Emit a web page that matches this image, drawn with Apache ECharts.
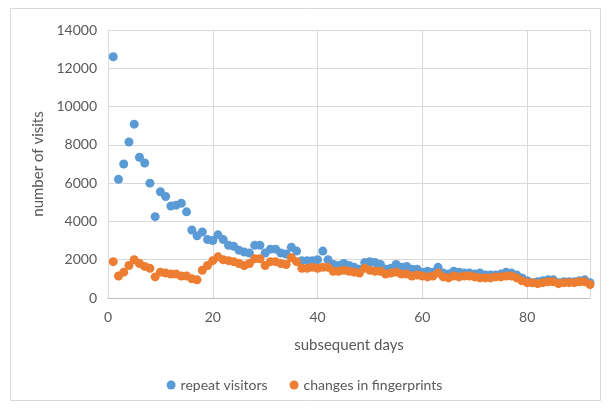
<!DOCTYPE html>
<html><head><meta charset="utf-8">
<script src="https://cdn.jsdelivr.net/npm/echarts@6/dist/echarts.min.js"></script>
<style>html,body{margin:0;padding:0;background:#fff}#c{width:609px;height:408px}</style>
</head><body><div id="c"></div>
<script>
const days = Array.from({length: 92}, (_, i) => i + 1);
const repeatVisitors = [12600,6200,7000,8150,9080,7350,7050,6000,4250,5550,5300,4800,4850,4950,4500,3550,3250,3450,3050,3000,
3300,3050,2750,2700,2500,2400,2350,2750,2750,2350,2550,2550,2350,2300,2650,2450,1950,1950,1950,2000,
2450,2000,1750,1700,1800,1700,1600,1500,1850,1900,1850,1750,1500,1550,1750,1600,1650,1500,1500,1350,
1400,1350,1600,1300,1250,1400,1350,1300,1300,1250,1300,1200,1200,1200,1250,1350,1300,1200,1050,900,
800,850,900,950,950,800,850,850,850,900,950,800];
const fingerprintChanges = [1900,1150,1350,1700,2000,1800,1650,1550,1100,1350,1300,1250,1250,1150,1150,1000,950,1450,1700,1950,
2150,2000,1950,1900,1800,1700,1800,2050,2050,1700,1900,1900,1800,1750,2100,1900,1550,1550,1600,1550,
1600,1600,1400,1400,1450,1400,1350,1300,1550,1450,1400,1400,1250,1300,1350,1250,1250,1150,1200,1150,
1100,1150,1300,1100,1050,1150,1100,1150,1150,1100,1050,1050,1050,1100,1100,1150,1150,1050,900,800,
800,750,800,850,850,750,800,800,800,850,850,700];
const seriesNames = ['repeat visitors', 'changes in fingerprints'];

const chart = echarts.init(document.getElementById('c'), null, {renderer: 'canvas'});
const txt = '#595959';
const ff = 'Lato, "Open Sans", sans-serif';
chart.setOption({
  animation: false,
  backgroundColor: '#fff',
  graphic: [{type: 'rect', shape: {x: 10.5, y: 8.5, width: 590, height: 392}, style: {fill: 'none', stroke: '#d9d9d9', lineWidth: 1}}],
  grid: {left: 108, right: 19, top: 30, bottom: 110},
  legend: {
    data: seriesNames, bottom: 11, left: 'center', itemWidth: 9, itemHeight: 9, itemGap: 22,
    icon: 'circle', textStyle: {color: txt, fontSize: 14, fontFamily: ff}
  },
  xAxis: {
    type: 'value', min: 0, max: 92, interval: 20,
    name: 'subsequent days', nameLocation: 'middle', nameGap: 40,
    nameTextStyle: {color: txt, fontSize: 15, fontFamily: ff},
    axisLine: {show: true, lineStyle: {color: '#bfbfbf'}},
    axisTick: {show: false},
    axisLabel: {color: txt, fontSize: 14, margin: 12, fontFamily: ff, showMaxLabel: false},
    splitLine: {show: true, lineStyle: {color: '#d9d9d9'}}
  },
  yAxis: {
    type: 'value', min: 0, max: 14000, interval: 2000,
    name: 'number of visits', nameLocation: 'middle', nameGap: 57,
    nameTextStyle: {color: txt, fontSize: 15, fontFamily: ff},
    axisLine: {show: false}, axisTick: {show: false},
    axisLabel: {color: txt, fontSize: 14, margin: 11, fontFamily: ff, formatter: v => String(v)},
    splitLine: {show: true, lineStyle: {color: '#d9d9d9'}}
  },
  series: [
    {name: seriesNames[0], type: 'scatter', symbolSize: 9, itemStyle: {color: '#5B9BD5', opacity: 1},
     data: days.map((d, i) => [d, repeatVisitors[i]])},
    {name: seriesNames[1], type: 'scatter', symbolSize: 9, itemStyle: {color: '#ED7D31', opacity: 1},
     data: days.map((d, i) => [d, fingerprintChanges[i]])}
  ]
});
</script></body></html>
